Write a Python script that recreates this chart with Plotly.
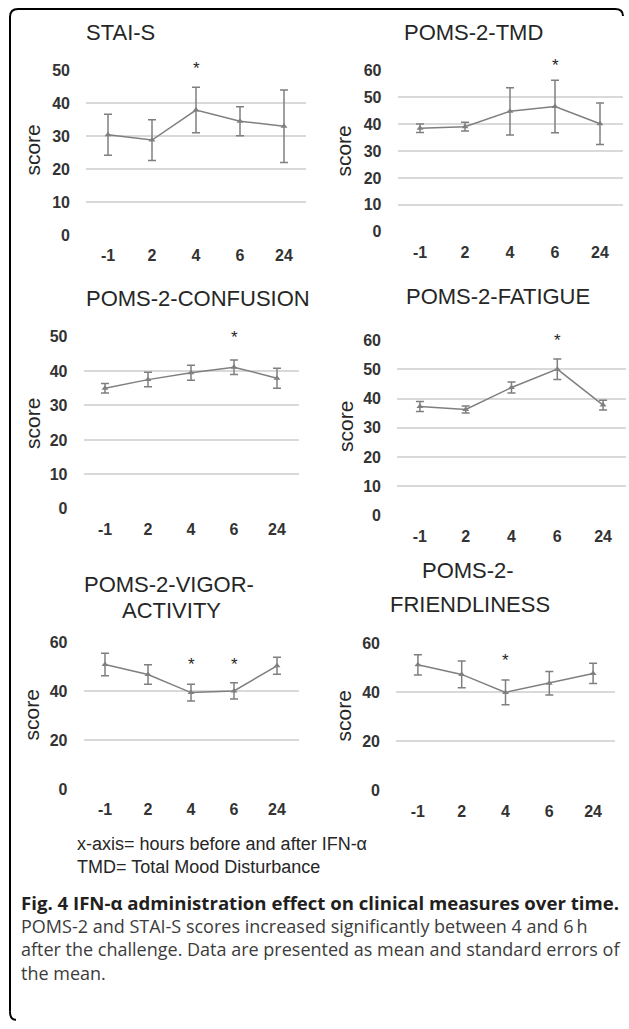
import plotly.graph_objects as go

W, H = 629, 1029

hours = ["-1", "2", "4", "6", "24"]

titles = [["STAI-S"], ["POMS-2-TMD"], ["POMS-2-CONFUSION"], ["POMS-2-FATIGUE"],
          ["POMS-2-VIGOR-", "ACTIVITY"], ["POMS-2-", "FRIENDLINESS"]]

stai_mean = [30.5, 28.9, 38.0, 34.6, 33.1]
stai_err = [6.2, 6.2, 6.9, 4.4, 11.0]
tmd_mean = [38.5, 39.1, 44.8, 46.6, 40.2]
tmd_err = [1.6, 1.6, 8.8, 9.8, 7.7]
conf_mean = [35.0, 37.5, 39.5, 41.1, 37.9]
conf_err = [1.4, 2.1, 2.2, 2.1, 2.9]
fat_mean = [37.3, 36.3, 43.8, 50.1, 37.8]
fat_err = [1.7, 1.2, 1.9, 3.5, 1.7]
vig_mean = [51.0, 46.9, 39.5, 40.2, 50.5]
vig_err = [4.6, 4.0, 3.4, 3.3, 3.5]
fri_mean = [51.1, 47.2, 39.9, 43.6, 47.6]
fri_err = [4.1, 5.4, 5.0, 4.8, 4.1]

means = [stai_mean, tmd_mean, conf_mean, fat_mean, vig_mean, fri_mean]
errs = [stai_err, tmd_err, conf_err, fat_err, vig_err, fri_err]
ymax = [50, 60, 50, 60, 60, 60]
ydtick = [10, 10, 10, 10, 20, 20]

# significance stars: (hour label, y value)
stars = [[("4", 50.5)], [("6", 62.0)], [("6", 49.6)], [("6", 59.8)],
         [("4", 51.0), ("6", 51.0)], [("4", 53.0)]]

footer_lines = ["x-axis= hours before and after IFN-α", "TMD= Total Mood Disturbance"]
caption_bold = "Fig. 4 IFN-α administration effect on clinical measures over time."
caption_body = ["POMS-2 and STAI-S scores increased significantly between 4 and 6\u2009h",
                "after the challenge. Data are presented as mean and standard errors of",
                "the mean."]

# plot areas in reference pixels (left, right, top, bottom)
boxes = [(86, 306, 70.7, 236.0), (397.5, 622.5, 70.7, 232.3),
         (83.5, 298.5, 337.3, 510.0), (397, 626, 341.0, 516.7),
         (83.5, 298.5, 644.0, 790.7), (396, 615, 644.3, 792.3)]
title_pos = [[(120, 33)], [(473, 33)], [(198, 299)], [(498, 297)],
             [(169, 586), (171, 612)], [(468, 572), (470, 606)]]
score_pos = [(33, 151), (344, 152), (32, 425), (345, 428), (31, 717), (343, 718)]

# vertical calibration of the capture (measured from earlier renders)
Y0, YS = 8.1, 0.9855


def fx(p):
    return p / W


def fy(p):
    return 1 - ((p - Y0) / YS) / H


GRAY = "#7f7f7f"
TXT = "#262626"
TICK = "#333333"
FONT = "Liberation Sans, Arial, sans-serif"

fig = go.Figure()
annotations = []

for i in range(6):
    n = "" if i == 0 else str(i + 1)
    l, r, t, b = boxes[i]
    yt = list(range(0, ymax[i] + 1, ydtick[i]))
    fig.add_trace(go.Scatter(
        x=hours, y=means[i], mode="lines+markers",
        line=dict(color=GRAY, width=1.5),
        marker=dict(symbol="triangle-up", size=6, color=GRAY),
        error_y=dict(type="data", array=errs[i], visible=True, color=GRAY,
                     thickness=1.5, width=4),
        xaxis="x" + n, yaxis="y" + n, showlegend=False, hoverinfo="x+y"))
    fig.layout["xaxis" + n] = dict(
        domain=[fx(l), fx(r)], anchor="y" + n, type="category",
        range=[-0.5, 4.5], showgrid=False, zeroline=False, showline=False,
        tickvals=hours, ticktext=["<b>%s</b>" % h for h in hours],
        tickfont=dict(family=FONT, size=16, color=TICK),
        ticklabelstandoff=9, fixedrange=True)
    fig.layout["yaxis" + n] = dict(
        domain=[fy(b), fy(t)], anchor="x" + n, range=[0, ymax[i]],
        tickvals=yt, ticktext=["<b>%d</b>" % v for v in yt],
        showgrid=True, gridcolor="#d9d9d9", gridwidth=1.5,
        zeroline=False, showline=False,
        tickfont=dict(family=FONT, size=16, color=TICK),
        ticklabelstandoff=15, fixedrange=True)
    for (tx, ty), txt in zip(title_pos[i], titles[i]):
        annotations.append(dict(x=fx(tx), y=fy(ty), xref="paper", yref="paper",
                                text=txt, showarrow=False, xanchor="center", yanchor="middle",
                                font=dict(family=FONT, size=22, color=TXT)))
    sx, sy = score_pos[i]
    annotations.append(dict(x=fx(sx), y=fy(sy), xref="paper", yref="paper", text="score",
                            showarrow=False, textangle=-90, xanchor="center", yanchor="middle",
                            font=dict(family=FONT, size=21, color=TXT)))
    for cat, val in stars[i]:
        annotations.append(dict(x=hours.index(cat), y=val / ymax[i],
                                xref="x" + n, yref="y%s domain" % n,
                                text="*", showarrow=False, xanchor="center", yanchor="middle",
                                font=dict(family=FONT, size=17, color=TXT)))

annotations.append(dict(x=fx(75), y=fy(857.5), xref="paper", yref="paper",
                        text="<br>".join(footer_lines), showarrow=False, align="left",
                        xanchor="left", yanchor="middle",
                        font=dict(family=FONT, size=18, color=TXT)))

CAP = "Open Sans, Noto Sans, sans-serif"
annotations.append(dict(x=fx(19), y=fy(904), xref="paper", yref="paper",
                        text="<b>" + caption_bold + "</b>", showarrow=False,
                        xanchor="left", yanchor="middle",
                        font=dict(family=CAP, size=18.6, color="#231f20")))
annotations.append(dict(x=fx(19), y=fy(952), xref="paper", yref="paper",
                        text="<br>".join(caption_body), showarrow=False, align="left",
                        xanchor="left", yanchor="middle",
                        font=dict(family=CAP, size=18, color="#3c3c3c")))

border = ("M {x0},{y0} L {x0},{y1} Q {x0},{yt} {x2},{yt} L {x3},{yt} Q {x4},{yt} {x4},{y5}"
          ).format(x0=fx(10), y0=fy(1014), y1=fy(17), yt=fy(9), x2=fx(18), x3=fx(615),
                   x4=fx(623), y5=fy(16))
border_bottom = "M {a},{b} Q {a},{c} {d},{c}".format(a=fx(10), b=fy(1014), c=fy(1022), d=fx(16))

fig.update_layout(
    width=W, height=H, margin=dict(l=0, r=0, t=0, b=0),
    paper_bgcolor="white", plot_bgcolor="white",
    annotations=annotations,
    shapes=[dict(type="path", path=border, xref="paper", yref="paper",
                 line=dict(color="black", width=2)),
            dict(type="path", path=border_bottom, xref="paper", yref="paper",
                 line=dict(color="black", width=2))],
)

fig.write_html(
    "out.html",
    config={"displayModeBar": False},
    post_script="document.documentElement.style.margin='0';"
                "document.body.style.margin='0';"
                "document.body.style.overflow='hidden';",
)
